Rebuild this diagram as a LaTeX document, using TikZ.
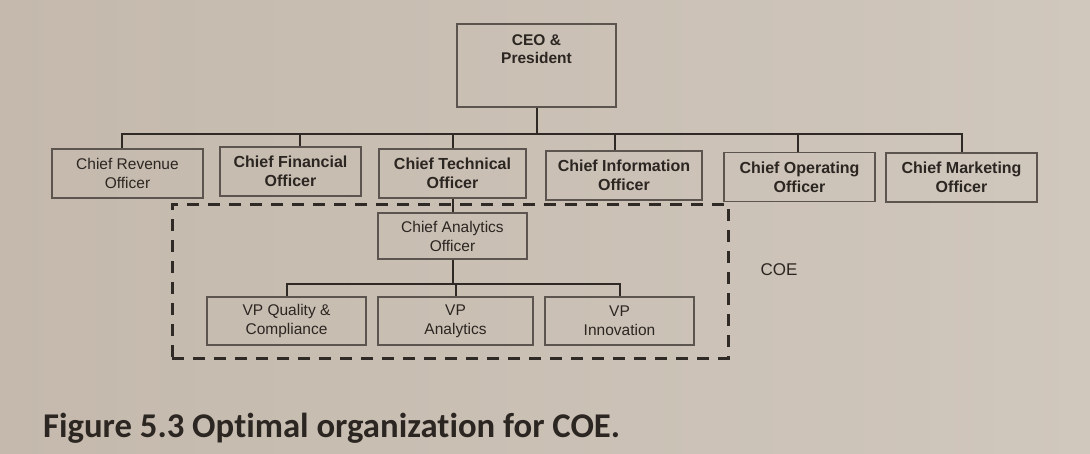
\documentclass[tikz,border=0pt]{standalone}
\usepackage{fontspec}
\setmainfont{Liberation Sans}
\newfontfamily\capfont[Ligatures=NoCommon]{Carlito}
\definecolor{paperL}{RGB}{196,185,172}
\definecolor{paperR}{RGB}{208,199,189}
\definecolor{ink}{RGB}{44,38,34}
\definecolor{boxc}{RGB}{92,84,78}
\definecolor{lineink}{RGB}{48,42,38}
\begin{document}
\begin{tikzpicture}[x=1pt,y=-1pt,
  box/.style={draw=boxc, line width=1.2pt, align=center, inner sep=0pt, text=ink,
              font=\fontsize{16}{19}\selectfont\bfseries},
  lbox/.style={box, font=\fontsize{15.5}{19}\selectfont},
  conn/.style={draw=lineink, line width=2pt},
  coeline/.style={draw=lineink, line width=3pt, dash pattern=on 12pt off 9pt},
]
\shade[left color=paperL, right color=paperR] (0,0) rectangle (1090,453);
\useasboundingbox (0,0) rectangle (1090,453);

% CEO
\node[box, font=\fontsize{15.5}{18.5}\selectfont\bfseries, minimum width=159pt, minimum height=83pt]
  (ceo) at (536.5,65.5) {CEO \&\\President\\[14pt]\mbox{}};

% first row
\node[lbox, minimum width=151pt, minimum height=49pt] (rev)  at (127.5,173.5) {Chief Revenue\\Officer};
\node[box,  minimum width=141pt, minimum height=49pt] (fin)  at (290.5,171.5) {Chief Financial\\Officer};
\node[box,  minimum width=147pt, minimum height=49pt] (tech) at (452.5,173.5) {Chief Technical\\Officer};
\node[box,  minimum width=156pt, minimum height=49pt] (info) at (624,175.5)   {Chief Information\\Officer};
\node[box,  minimum width=151pt, minimum height=49pt] (ops)  at (799.5,177)   {Chief Operating\\Officer};
\node[box,  minimum width=151pt, minimum height=49pt] (mkt)  at (961.5,177.5) {Chief Marketing\\Officer};

\draw[conn] (ceo.south) -- ++(0,26) coordinate (bus);
\draw[conn] ([xshift=-6pt]rev.north) |- (bus);
\draw[conn] ([xshift=9pt]fin.north) |- (bus);
\draw[conn] (tech.north) |- (bus);
\draw[conn] ([xshift=-9pt]info.north) |- (bus);
\draw[conn] ([xshift=-2pt]ops.north) |- (bus);
\draw[conn] (mkt.north) |- (bus);

% COE group
\node[coeline, minimum width=556pt, minimum height=154pt, inner sep=0pt] (coebox) at (450,281) {};
\node[text=ink, font=\fontsize{17}{20}\selectfont, anchor=west] (coe) at (757,270) {COE};

\node[lbox, minimum width=149pt, minimum height=46pt] (cao) at (452.5,236) {Chief Analytics\\Officer};
\node[lbox, minimum width=159pt, minimum height=48pt] (vpq) at (286.5,321) {VP Quality \&\\Compliance};
\node[lbox, minimum width=155pt, minimum height=48pt] (vpa) at (455.5,321) {VP\\Analytics};
\node[lbox, minimum width=149pt, minimum height=48pt] (vpi) at (619.5,321) {VP\\Innovation};

\draw[conn] (tech.south) -- (cao.north);
\draw[conn] (cao.south) -- ++(0,24) coordinate (sub);
\draw[conn] (vpq.north) |- (sub);
\draw[conn] (vpa.north) |- (sub);
\draw[conn] (vpi.north) |- (sub);

% caption
\node[anchor=base west, inner sep=0pt, text=ink, font=\capfont\bfseries\fontsize{34.7}{40}\selectfont]
  (cap) at (43,437) {Figure 5.3 Optimal organization for COE.};
\end{tikzpicture}
\end{document}
